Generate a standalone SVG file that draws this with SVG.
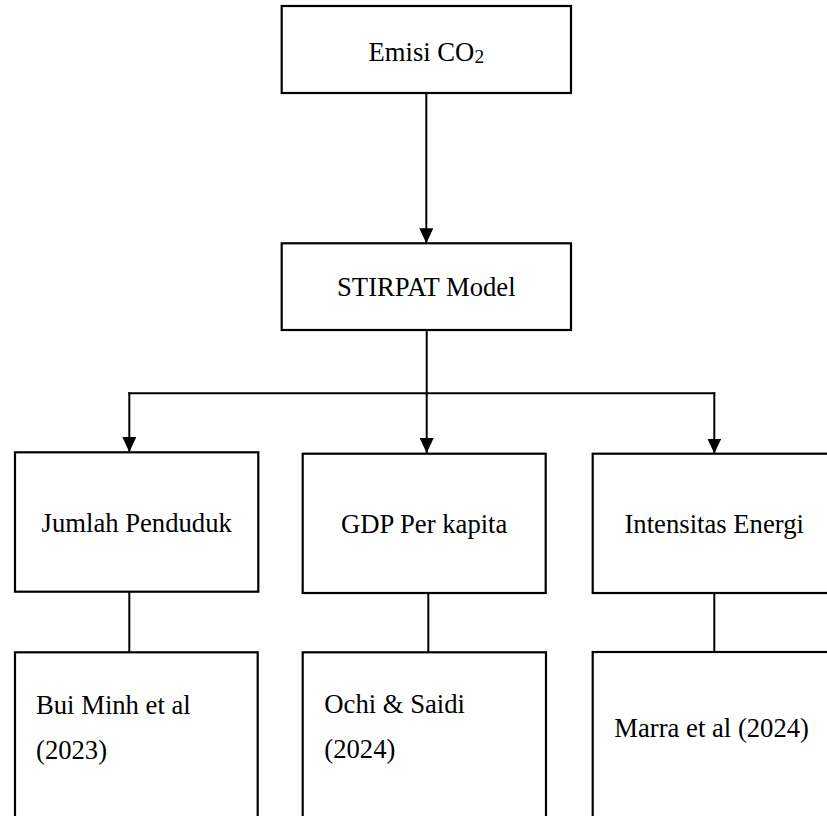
<svg xmlns="http://www.w3.org/2000/svg" width="827" height="816" viewBox="0 0 827 816">
<style>
.box{fill:#ffffff;stroke:#000000;stroke-width:2.2}
.line{fill:none;stroke:#000000;stroke-width:2}
.t{font-family:"Liberation Serif","Times New Roman",serif;font-size:26.67px;fill:#000000}
.c{text-anchor:middle}
</style>
<defs>
<marker id="arr" markerUnits="userSpaceOnUse" markerWidth="15" markerHeight="14" refX="15" refY="7" orient="auto">
<path d="M0,0 L15,7 L0,14 z" fill="#000000"/>
</marker>
</defs>
<rect width="827" height="816" fill="#ffffff"/>
<g id="connectors">
<line class="line" x1="426.3" y1="93" x2="426.3" y2="243.3" marker-end="url(#arr)"/>
<line class="line" x1="426.7" y1="330" x2="426.7" y2="453" marker-end="url(#arr)"/>
<line class="line" x1="128.3" y1="393.3" x2="715.3" y2="393.3"/>
<line class="line" x1="129.3" y1="392.3" x2="129.3" y2="452" marker-end="url(#arr)"/>
<line class="line" x1="714.3" y1="392.3" x2="714.3" y2="453.5" marker-end="url(#arr)"/>
<line class="line" x1="129.3" y1="592" x2="129.3" y2="652"/>
<line class="line" x1="428.3" y1="593" x2="428.3" y2="652"/>
<line class="line" x1="714.3" y1="593" x2="714.3" y2="652"/>
</g>
<g id="emisi">
<rect class="box" x="281.7" y="6" width="289.3" height="87"/>
<text class="t c" x="426.3" y="61">Emisi CO<tspan font-size="19.5" dy="1.7">2</tspan></text>
</g>
<g id="stirpat">
<rect class="box" x="281.7" y="243.3" width="289.3" height="86.7"/>
<text class="t c" x="426.3" y="295.7">STIRPAT Model</text>
</g>
<g id="jumlah">
<rect class="box" x="15" y="452.3" width="243.3" height="139.4"/>
<text class="t c" x="136.7" y="531.7">Jumlah Penduduk</text>
</g>
<g id="gdp">
<rect class="box" x="302.7" y="453.7" width="243" height="139.3"/>
<text class="t c" x="424.2" y="533">GDP Per kapita</text>
</g>
<g id="intensitas">
<rect class="box" x="592.7" y="453.7" width="243" height="139.3"/>
<text class="t c" x="714.2" y="533">Intensitas Energi</text>
</g>
<g id="bui">
<rect class="box" x="15" y="652.3" width="242.7" height="180"/>
<text class="t" x="36" y="714">Bui Minh et al</text>
<text class="t" x="36" y="758.5">(2023)</text>
</g>
<g id="ochi">
<rect class="box" x="302.7" y="652.3" width="243.3" height="180"/>
<text class="t" x="324.3" y="713.3">Ochi &amp; Saidi</text>
<text class="t" x="324.3" y="758">(2024)</text>
</g>
<g id="marra">
<rect class="box" x="592.7" y="652" width="243" height="180"/>
<text class="t" x="614.3" y="736.7">Marra et al (2024)</text>
</g>
</svg>
